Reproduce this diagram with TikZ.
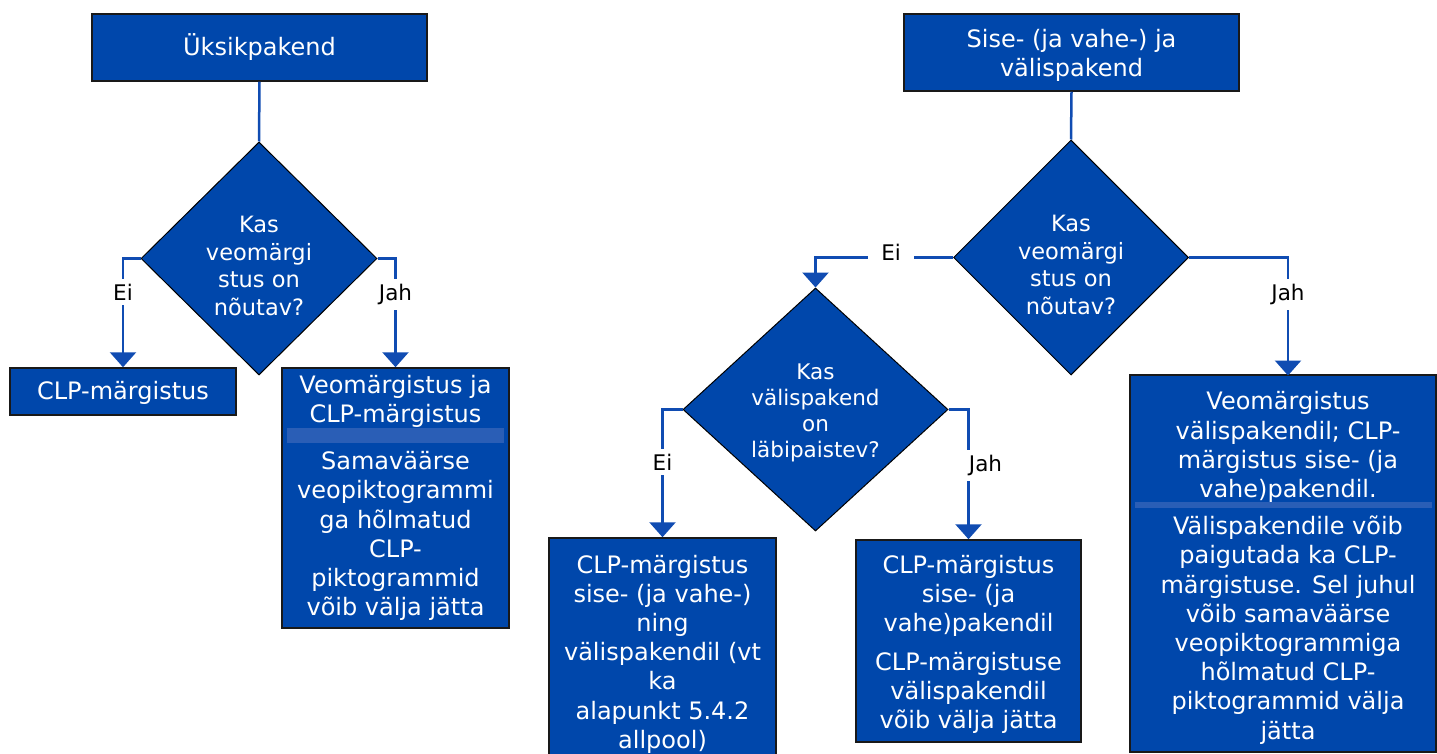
\documentclass[tikz,border=0pt]{standalone}
\usepackage{fontspec}
\setmainfont{DejaVu Sans}
\usetikzlibrary{shapes.geometric,arrows.meta}
\definecolor{boxblue}{RGB}{0,71,171}
\definecolor{bandblue}{RGB}{42,94,182}
\definecolor{lineblue}{RGB}{16,76,178}
\tikzset{
  box/.style={draw=black!90, line width=1.5pt, fill=boxblue, inner sep=0pt},
  dia/.style={diamond, draw=black, line width=1pt, fill=boxblue, inner sep=0pt},
  txt/.style={text=white, align=center, inner sep=0pt, font=\fontsize{24}{29.2}\selectfont},
  dtxt/.style={text=white, align=center, inner sep=0pt, font=\fontsize{22.5}{27.5}\selectfont},
  band/.style={fill=bandblue},
  conn/.style={draw=lineblue, line width=2.5pt},
  arr/.style={conn, -{Triangle[width=26pt,length=15pt]}},
  lbl/.style={fill=white, text=black, inner xsep=2pt, inner ysep=5pt, font=\fontsize{21.5}{25}\selectfont}
}
\begin{document}
\begin{tikzpicture}[x=1pt,y=-1pt]
\useasboundingbox (0,0) rectangle (1437,754);
\clip (0,0) rectangle (1437,754);
% top boxes
\node[box, minimum width=335pt, minimum height=67pt] (b1) at (259.5,47.5) {};
\node[txt] (b1t) at (259.5,47) {Üksikpakend};
\node[box, minimum width=335pt, minimum height=77pt] (b2) at (1071.5,52.5) {};
\node[txt] (b2t) at (1071.5,55) {Sise- (ja vahe-) ja\\välispakend};
% diamonds
\node[dia, minimum width=236pt, minimum height=233pt] (d1) at (259,258.5) {};
\node[dtxt] (d1t) at (259,266) {Kas\\veomärgi\\stus on\\nõutav?};
\node[dia, minimum width=235pt, minimum height=235pt] (d2) at (1071,257.5) {};
\node[dtxt] (d2t) at (1071,265) {Kas\\veomärgi\\stus on\\nõutav?};
\node[dia, minimum width=265pt, minimum height=243pt] (d3) at (815.5,409.5) {};
\node[dtxt, font=\fontsize{21.5}{26}\selectfont] (d3t) at (815.5,413) {Kas\\välispakend\\on\\läbipaistev?};
% result boxes
\node[box, minimum width=226pt, minimum height=47pt] (c1) at (123,391.5) {};
\node[txt] (c1t) at (123,393) {CLP-märgistus};
\node[box, minimum width=227pt, minimum height=260pt] (c2) at (395.5,498) {};
\fill[band] (287,428) rectangle (504,443);
\node[txt] (c2a) at (395.5,401) {Veomärgistus ja\\CLP-märgistus};
\node[txt] (c2b) at (395.5,536) {Samaväärse\\veopiktogrammi\\ga hõlmatud\\CLP-\\piktogrammid\\võib välja jätta};
\node[box, minimum width=227pt, minimum height=240pt] (c3) at (662.5,658) {};
\node[txt] (c3t) at (662.5,654) {CLP-märgistus\\sise- (ja vahe-)\\ning\\välispakendil (vt\\ka\\alapunkt 5.4.2\\allpool)};
\node[box, minimum width=225pt, minimum height=202pt] (c4) at (968.5,641) {};
\node[txt] (c4a) at (968.5,596) {CLP-märgistus\\sise- (ja\\vahe)pakendil};
\node[txt] (c4b) at (968.5,693) {CLP-märgistuse\\välispakendil\\võib välja jätta};
\node[box, minimum width=306pt, minimum height=377pt] (c5) at (1283,563.5) {};
\fill[band] (1135,502) rectangle (1432,508);
\node[txt] (c5a) at (1288,447) {Veomärgistus\\välispakendil; CLP-\\märgistus sise- (ja\\vahe)pakendil.};
\node[txt] (c5b) at (1288,630) {Välispakendile võib\\paigutada ka CLP-\\märgistuse. Sel juhul\\võib samaväärse\\veopiktogrammiga\\hõlmatud CLP-\\piktogrammid välja\\jätta};
% connectors
\coordinate (c5top) at (1288,375.5);
\draw[conn] (b1.south) -- (d1.north);
\draw[conn] (b2.south) -- (d2.north);
\draw[arr] (d1.west) -| node[lbl, pos=0.655] {Ei} (c1.north);
\draw[arr] (d1.east) -| node[lbl, pos=0.665] {Jah} (c2.north);
\draw[arr] (d2.west) -| node[lbl, pos=0.225, inner xsep=13pt, yshift=5pt] {Ei} (d3.north);
\draw[arr] (d2.east) -| node[lbl, pos=0.658] {Jah} (c5top);
\draw[arr] (d3.west) -| node[lbl, pos=0.705] {Ei} (c3.north);
\draw[arr] (d3.east) -| node[lbl, pos=0.715, xshift=17pt] {Jah} (c4.north);
\end{tikzpicture}
\end{document}
